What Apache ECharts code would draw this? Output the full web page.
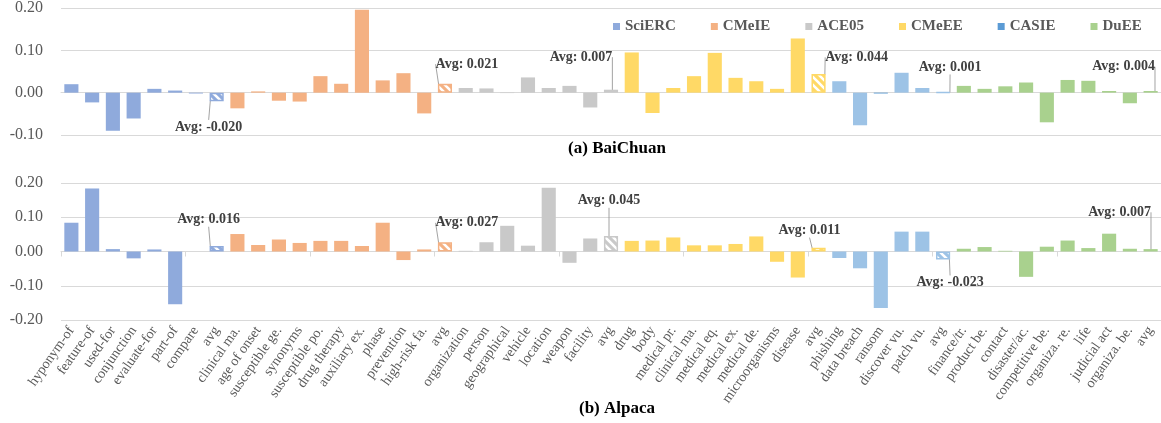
<!DOCTYPE html>
<html><head><meta charset="utf-8">
<script src="https://cdn.jsdelivr.net/npm/echarts@6/dist/echarts.min.js"></script>
<style>html,body{margin:0;padding:0;background:#fff}#c{width:1161px;height:423px}</style>
</head><body><div id="c"></div>
<script>
// ---------- data ----------
const groupNames = ['SciERC', 'CMeIE', 'ACE05', 'CMeEE', 'CASIE', 'DuEE'];

const sciercLabels = ['hyponym-of', 'feature-of', 'used-for', 'conjunction', 'evaluate-for', 'part-of', 'compare', 'avg'];
const sciercBaichuan = [0.020, -0.023, -0.090, -0.061, 0.009, 0.005, -0.002, -0.020];
const sciercAlpaca = [0.084, 0.184, 0.007, -0.020, 0.006, -0.154, 0.000, 0.016];

const cmeieLabels = ['clinical ma.', 'age of onset', 'susceptible ge.', 'synonyms', 'susceptible po.', 'drug therapy', 'auxiliary ex.', 'phase', 'prevention', 'high-risk fa.', 'avg'];
const cmeieBaichuan = [-0.037, 0.003, -0.019, -0.021, 0.039, 0.021, 0.196, 0.029, 0.046, -0.049, 0.021];
const cmeieAlpaca = [0.051, 0.019, 0.035, 0.025, 0.031, 0.031, 0.016, 0.084, -0.025, 0.006, 0.027];

const ace05Labels = ['organization', 'person', 'geographical', 'vehicle', 'location', 'weapon', 'facility', 'avg'];
const ace05Baichuan = [0.011, 0.010, -0.001, 0.036, 0.011, 0.016, -0.035, 0.007];
const ace05Alpaca = [0.002, 0.027, 0.075, 0.017, 0.186, -0.033, 0.038, 0.045];

const cmeeeLabels = ['drug', 'body', 'medical pr.', 'clinical ma.', 'medical eq.', 'medical ex.', 'medical de.', 'microorganisms', 'disease', 'avg'];
const cmeeeBaichuan = [0.095, -0.048, 0.011, 0.039, 0.094, 0.035, 0.027, 0.009, 0.128, 0.044];
const cmeeeAlpaca = [0.031, 0.032, 0.041, 0.018, 0.018, 0.022, 0.044, -0.030, -0.076, 0.011];

const casieLabels = ['phishing', 'data breach', 'ransom', 'discover vu.', 'patch vu.', 'avg'];
const casieBaichuan = [0.027, -0.077, -0.002, 0.047, 0.011, 0.001];
const casieAlpaca = [-0.019, -0.049, -0.165, 0.058, 0.058, -0.023];

const dueeLabels = ['finance/tr.', 'product be.', 'contact', 'disaster/ac.', 'competitive be.', 'organiza. re.', 'life', 'judicial act', 'organiza. be.', 'avg'];
const dueeBaichuan = [0.016, 0.009, 0.015, 0.024, -0.070, 0.030, 0.028, 0.004, -0.025, 0.004];
const dueeAlpaca = [0.008, 0.013, 0.002, -0.074, 0.014, 0.032, 0.010, 0.052, 0.008, 0.007];

const yTicksTop = [-0.1, 0.0, 0.1, 0.2];
const yTicksBottom = [-0.2, -0.1, 0.0, 0.1, 0.2];

// ---------- style ----------
const legendColors = ['#8faadc', '#f4b183', '#c9c9c9', '#ffd966', '#5b9bd5', '#a9d18e'];
const barColors = ['#8faadc', '#f4b183', '#c9c9c9', '#ffd966', '#9dc3e6', '#a9d18e'];
const avgOffsetTop = [[-8, 30], [22, -24], [-30, -34], [38, -26], [7, -25], [-27, -25]];
const avgOffsetBottom = [[-8, -29], [22, -24], [-2, -43], [-9, -19], [7, 27], [-31, -38]];
const SERIF = '"Liberation Serif", "Times New Roman", serif';

const groupLabels = [sciercLabels, cmeieLabels, ace05Labels, cmeeeLabels, casieLabels, dueeLabels];
const groupTop = [sciercBaichuan, cmeieBaichuan, ace05Baichuan, cmeeeBaichuan, casieBaichuan, dueeBaichuan];
const groupBottom = [sciercAlpaca, cmeieAlpaca, ace05Alpaca, cmeeeAlpaca, casieAlpaca, dueeAlpaca];
const categories = [].concat(...groupLabels);

function pattern(col) {
  const c = document.createElement('canvas');
  c.width = c.height = 8;
  const x = c.getContext('2d');
  x.fillStyle = col; x.fillRect(0, 0, 8, 8);
  x.strokeStyle = '#ffffff'; x.lineWidth = 2.6;
  x.beginPath();
  for (const k of [-8, 0, 8]) { x.moveTo(k - 1, -1); x.lineTo(k + 9, 9); }
  x.stroke();
  return c;
}

function buildSeries(vals, chartIdx) {
  const out = [];
  let start = 0;
  groupNames.forEach((name, g) => {
    const arr = vals[g];
    const n = arr.length;
    const offs = chartIdx === 0 ? avgOffsetTop[g] : avgOffsetBottom[g];
    const data = categories.map((c, i) => {
      if (i < start || i >= start + n) return '-';
      const j = i - start;
      const v = arr[j];
      if (j === n - 1) {
        return {
          value: v,
          itemStyle: { color: { image: pattern(barColors[g]), repeat: 'repeat' }, borderColor: barColors[g], borderWidth: 1.5 },
          label: {
            show: true, position: 'inside',
            formatter: 'Avg: ' + v.toFixed(3),
            fontFamily: SERIF, fontWeight: 'bold', fontSize: 14, color: '#404040'
          }
        };
      }
      let col = barColors[g];
      if (chartIdx === 0 && name === 'CASIE' && categories[i] === 'ransom') col = legendColors[g];
      return { value: v, itemStyle: { color: col } };
    });
    out.push({
      name: name,
      type: 'bar',
      xAxisIndex: chartIdx === 0 ? 0 : 1,
      yAxisIndex: chartIdx,
      barGap: '-100%',
      barCategoryGap: '32%',
      itemStyle: { color: legendColors[g] },
      data: data,
      label: { show: false },
      labelLine: { show: true, lineStyle: { color: '#8c8c8c', width: 0.8 } },
      labelLayout: function () { return { dx: offs[0], dy: offs[1] }; },
      emphasis: { disabled: true }
    });
    start += n;
  });
  return out;
}

const yAxisCommon = (min, max, idx) => ({
  type: 'value', gridIndex: idx, min: min, max: max, interval: 0.1,
  axisLine: { show: false }, axisTick: { show: false },
  splitLine: { lineStyle: { color: '#d9d9d9', width: 1 } },
  axisLabel: { formatter: v => v.toFixed(2), fontFamily: SERIF, fontSize: 16, color: '#595959', margin: 18 }
});

const chart = echarts.init(document.getElementById('c'), null, { renderer: 'canvas' });
chart.setOption({
  animation: false,
  backgroundColor: '#ffffff',
  title: [
    { text: '(a) BaiChuan', left: 612, top: 135, textAlign: 'center',
      textStyle: { fontFamily: SERIF, fontWeight: 'bold', fontSize: 17, color: '#000' } },
    { text: '(b) Alpaca', left: 612, top: 395, textAlign: 'center',
      textStyle: { fontFamily: SERIF, fontWeight: 'bold', fontSize: 17, color: '#000' } }
  ],
  legend: {
    data: groupNames.map((n, g) => ({ name: n, itemStyle: { color: legendColors[g] } })),
    left: 608, top: 14, icon: 'rect', itemWidth: 7, itemHeight: 7, itemGap: 35,
    textStyle: { fontFamily: SERIF, fontWeight: 'bold', fontSize: 15, color: '#595959' },
    selectedMode: false
  },
  grid: [
    { left: 61, top: 7, width: 1102, height: 128 },
    { left: 61, top: 183, width: 1102, height: 137 }
  ],
  xAxis: [
    { type: 'category', gridIndex: 0, data: categories,
      axisLine: { onZero: true, lineStyle: { color: '#d9d9d9' } }, axisTick: { show: false }, axisLabel: { show: false } },
    { type: 'category', gridIndex: 1, data: categories, position: 'bottom',
      axisLine: { onZero: true, lineStyle: { color: '#d9d9d9' } },
      axisTick: { show: true, length: 5, lineStyle: { color: '#d9d9d9' } }, axisLabel: { show: false } },
    { type: 'category', gridIndex: 1, data: categories, position: 'bottom',
      axisLine: { show: false, onZero: false }, axisTick: { show: false },
      axisLabel: { interval: 0, rotate: 55, fontFamily: SERIF, fontSize: 14, color: '#595959', margin: 8 } }
  ],
  yAxis: [
    yAxisCommon(yTicksTop[0], yTicksTop[yTicksTop.length - 1], 0),
    yAxisCommon(yTicksBottom[0], yTicksBottom[yTicksBottom.length - 1], 1)
  ],
  series: buildSeries(groupTop, 0).concat(buildSeries(groupBottom, 1))
});
</script>
</body></html>
